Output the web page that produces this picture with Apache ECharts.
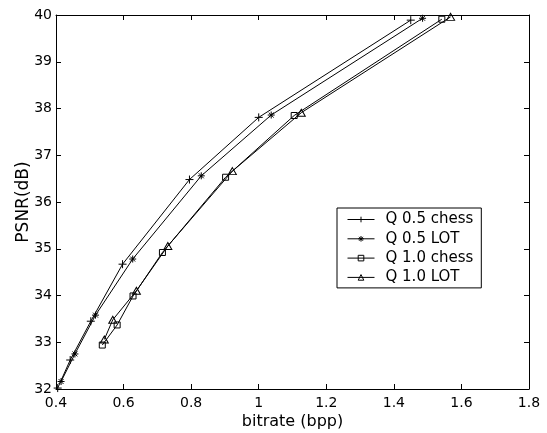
<!DOCTYPE html>
<html>
<head>
<meta charset="utf-8">
<script src="https://cdn.jsdelivr.net/npm/echarts@6/dist/echarts.min.js"></script>
<style>
html,body{margin:0;padding:0;background:#fff;}
#chart{width:547px;height:433px;}
</style>
</head>
<body>
<div id="chart"></div>
<script>
// ---- data ----
const seriesNames = ['Q 0.5 chess', 'Q 0.5 LOT', 'Q 1.0 chess', 'Q 1.0 LOT'];
const q05chessX = [0.405, 0.442, 0.503, 0.597, 0.795, 1.000, 1.450];
const q05chessY = [32.02, 32.62, 33.45, 34.67, 36.48, 37.81, 39.89];
const q05lotX   = [0.415, 0.456, 0.517, 0.627, 0.830, 1.037, 1.485];
const q05lotY   = [32.16, 32.75, 33.58, 34.78, 36.56, 37.86, 39.93];
const q10chessX = [0.537, 0.581, 0.628, 0.715, 0.902, 1.105, 1.542];
const q10chessY = [32.94, 33.37, 33.99, 34.92, 36.53, 37.85, 39.91];
const q10lotX   = [0.543, 0.568, 0.638, 0.731, 0.922, 1.126, 1.568];
const q10lotY   = [33.06, 33.48, 34.10, 35.06, 36.66, 37.91, 39.96];
const xTicks = [0.4, 0.6, 0.8, 1.0, 1.2, 1.4, 1.6, 1.8];
const yTicks = [32, 33, 34, 35, 36, 37, 38, 39, 40];

// ---- styling ----
const FONT = 'DejaVu Sans';
const symPlus = 'path://M0,5L10,5M5,0L5,10';
const symStar = 'path://M0,5L10,5M5,0L5,10M1.5,1.5L8.5,8.5M1.5,8.5L8.5,1.5';
const symSquare = 'path://M0,0L10,0L10,10L0,10Z';
const symTri = 'path://M5,0L10,9L0,9Z';
const symbols = [symPlus, symStar, symSquare, symTri];
const symSizes = [8, 7, 6, [8, 7]];
const xs = [q05chessX, q05lotX, q10chessX, q10lotX];
const ys = [q05chessY, q05lotY, q10chessY, q10lotY];

function zip(a, b) { return a.map((v, i) => [v, b[i]]); }

const chart = echarts.init(document.getElementById('chart'), null, {renderer: 'canvas'});

const axisCommon = {
  axisLine: {show: true, lineStyle: {color: '#000', width: 1}},
  axisTick: {show: true, inside: true, length: 5, lineStyle: {color: '#000', width: 1}},
  splitLine: {show: false}
};

const option = {
  backgroundColor: '#fff',
  animation: false,
  grid: {left: 56, right: 18, top: 15, bottom: 44, containLabel: false, outerBoundsMode: 'none'},
  xAxis: [
    Object.assign({
      type: 'value', position: 'bottom',
      min: xTicks[0], max: xTicks[xTicks.length - 1], interval: 0.2,
      name: 'bitrate (bpp)', nameLocation: 'middle', nameGap: 25,
      nameMoveOverlap: false,
      nameTextStyle: {fontFamily: FONT, fontSize: 16, color: '#000'},
      axisLabel: {fontFamily: FONT, fontSize: 14, color: '#000', margin: 7,
        showMinLabel: true, showMaxLabel: true}
    }, axisCommon),
    Object.assign({
      type: 'value', position: 'top',
      min: xTicks[0], max: xTicks[xTicks.length - 1], interval: 0.2,
      axisLabel: {show: false}
    }, axisCommon)
  ],
  yAxis: [
    Object.assign({
      type: 'value', position: 'left',
      min: yTicks[0], max: yTicks[yTicks.length - 1], interval: 1,
      name: 'PSNR(dB)', nameLocation: 'middle', nameGap: 24,
      nameMoveOverlap: false,
      nameTextStyle: {fontFamily: FONT, fontSize: 17, color: '#000'},
      axisLabel: {fontFamily: FONT, fontSize: 14, color: '#000', margin: 4,
        showMinLabel: true, showMaxLabel: true}
    }, axisCommon),
    Object.assign({
      type: 'value', position: 'right',
      min: yTicks[0], max: yTicks[yTicks.length - 1], interval: 1,
      axisLabel: {show: false}
    }, axisCommon)
  ],
  legend: {
    orient: 'vertical',
    left: 337, top: 208,
    backgroundColor: '#fff',
    borderColor: '#000', borderWidth: 1, borderRadius: 0,
    padding: [4, 8, 3, 10],
    itemWidth: 27, itemHeight: 7, itemGap: 4.3,
    lineStyle: {width: 1, color: '#000'},
    itemStyle: {borderWidth: 1, borderColor: '#000', color: 'rgba(0,0,0,0)'},
    textStyle: {fontFamily: FONT, fontSize: 15, color: '#000', padding: [0, 0, 0, 6]},
    data: seriesNames
  },
  series: seriesNames.map((name, i) => ({
    name: name,
    type: 'line',
    xAxisIndex: 0, yAxisIndex: 0,
    data: zip(xs[i], ys[i]),
    symbol: symbols[i],
    symbolSize: symSizes[i],
    showSymbol: true,
    lineStyle: {color: '#000', width: 1},
    itemStyle: {color: 'rgba(0,0,0,0)', borderColor: '#000', borderWidth: 1},
    emphasis: {disabled: true},
    z: 2
  }))
};
chart.setOption(option);
</script>
</body>
</html>
